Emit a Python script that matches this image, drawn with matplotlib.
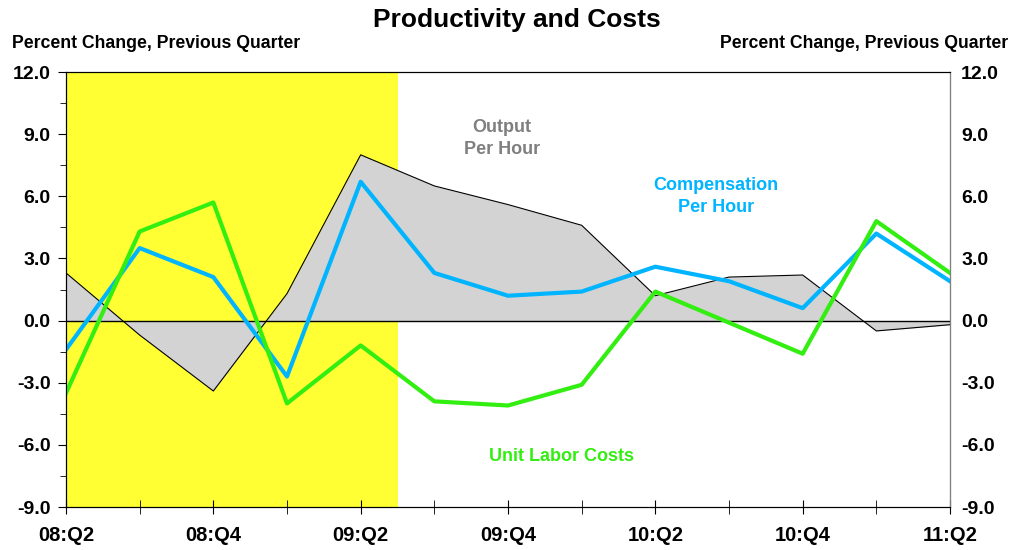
import numpy as np
import matplotlib.pyplot as plt
from matplotlib.ticker import MultipleLocator

plt.rcParams['font.family'] = ['Liberation Sans', 'DejaVu Sans']

# =============================================================================
# Data (percent change, previous quarter)
# =============================================================================
quarters = ['08:Q2', '08:Q3', '08:Q4', '09:Q1', '09:Q2', '09:Q3', '09:Q4',
            '10:Q1', '10:Q2', '10:Q3', '10:Q4', '11:Q1', '11:Q2']
output_per_hour = [2.3, -0.7, -3.4, 1.3, 8.0, 6.5, 5.6, 4.6, 1.2, 2.1, 2.2, -0.5, -0.2]
comp_per_hour   = [-1.4, 3.5, 2.1, -2.7, 6.7, 2.3, 1.2, 1.4, 2.6, 1.9, 0.6, 4.2, 1.9]
unit_labor      = [-3.5, 4.3, 5.7, -4.0, -1.2, -3.9, -4.1, -3.1, 1.4, -0.1, -1.6, 4.8, 2.3]
recession       = (0, 4.5)

BLUE  = '#00B4FF'
GREEN = '#33EE11'
GRAY  = '#7F7F7F'

x = np.arange(len(quarters))
yticks = np.arange(-9, 12.1, 3)
ylabels = [f'{v:.1f}' for v in yticks]

# =============================================================================
# Plot
# =============================================================================
fig = plt.figure(figsize=(10.13, 5.5), dpi=100)
ax = fig.add_axes([66 / 1013, 1 - 507 / 550, (950 - 66) / 1013, (507 - 72) / 550])

ax.axvspan(*recession, color='#FFFF33', zorder=0, lw=0)
ax.fill_between(x, 0, output_per_hour, color='#D3D3D3', lw=0, zorder=1)
ax.plot(x, output_per_hour, color='black', lw=0.8, zorder=2)
ax.axhline(0, color='black', lw=1, zorder=2)
ax.plot(x, comp_per_hour, color=BLUE, lw=3, zorder=3)
ax.plot(x, unit_labor, color=GREEN, lw=3, zorder=4)

ax.set_xlim(0, len(quarters) - 1)
ax.set_ylim(-9, 12)

ax.set_xticks(x[::2])
ax.set_xticklabels(quarters[::2], fontsize=14.5, fontweight='bold')
ax.set_xticks(x, minor=True)
ax.tick_params(axis='x', which='both', direction='inout', length=10, pad=9)

ax.yaxis.set_minor_locator(MultipleLocator(1.5))
ax.set_yticks(yticks)
ax.set_yticklabels(ylabels, fontsize=14, fontweight='bold')
ax.tick_params(axis='y', which='major', direction='out', length=6, pad=5)
ax.tick_params(axis='y', which='minor', direction='out', length=4)

ax2 = ax.twinx()
ax2.set_ylim(-9, 12)
ax2.set_yticks(yticks)
ax2.set_yticklabels(ylabels, fontsize=14, fontweight='bold')
ax2.tick_params(axis='y', length=0, pad=8)
ax2.spines['right'].set_color('#808080')

ax.text(5.92, 8.8, 'Output\nPer Hour', color=GRAY, fontsize=13, fontweight='bold',
        ha='center', va='center', linespacing=1.4)
ax.text(8.82, 6.0, 'Compensation\nPer Hour', color=BLUE, fontsize=13, fontweight='bold',
        ha='center', va='center', linespacing=1.4)
ax.text(6.73, -6.55, 'Unit Labor Costs', color=GREEN, fontsize=13, fontweight='bold',
        ha='center', va='center')

fig.text(517 / 1013, 1 - 20 / 550, 'Productivity and Costs', fontsize=19, fontweight='bold',
         ha='center', va='center')
fig.text(12 / 1013, 1 - 44 / 550, 'Percent Change, Previous Quarter', fontsize=12.7,
         fontweight='bold', ha='left', va='center')
fig.text(1008 / 1013, 1 - 44 / 550, 'Percent Change, Previous Quarter', fontsize=12.7,
         fontweight='bold', ha='right', va='center')

fig.savefig('out.png', dpi=100)
